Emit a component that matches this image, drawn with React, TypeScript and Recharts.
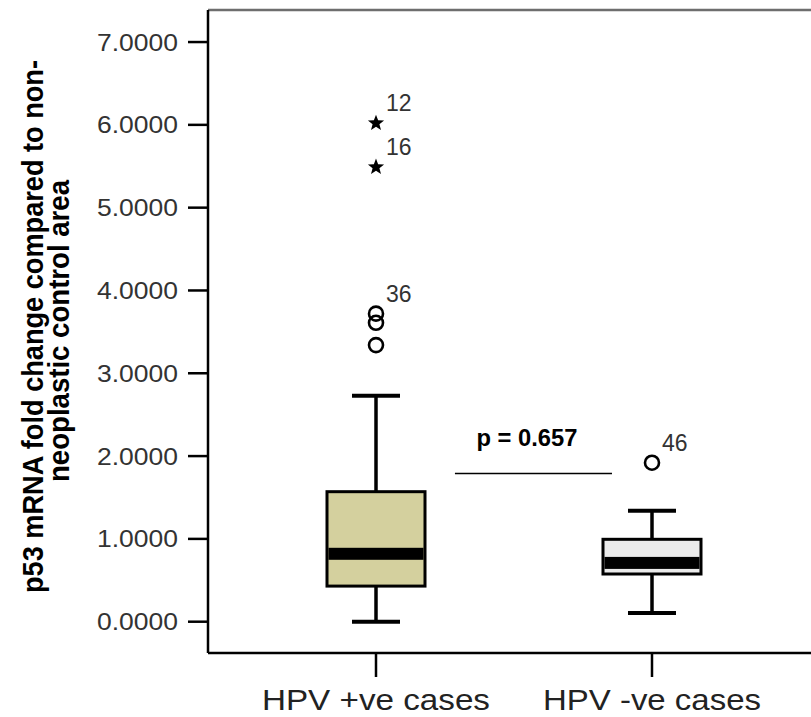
import React from 'react';
import {
  ComposedChart,
  Bar,
  Scatter,
  XAxis,
  YAxis,
  ReferenceLine,
  ReferenceDot,
} from 'recharts';

// ---- data ----
const categories = ['HPV +ve cases', 'HPV -ve cases'];
const categoryX = [1, 2];
const whiskerLow = [0.0, 0.105];
const q1Values = [0.43, 0.576];
const medianValues = [0.82, 0.71];
const q3Values = [1.57, 0.995];
const whiskerHigh = [2.73, 1.34];

const outlierX = [1, 1, 1, 1, 1, 2];
const outlierY = [6.02, 5.49, 3.72, 3.61, 3.34, 1.92];
const outlierKind = ['extreme', 'extreme', 'outlier', 'outlier', 'outlier', 'outlier'];
const outlierLabel = ['12', '16', '36', '', '', '46'];

const yTicks = [0, 1, 2, 3, 4, 5, 6, 7];
const yDomain = [-0.378, 7.387];
const xDomain = [0.3913, 2.5761];
const pValueText = 'p = 0.657';
const pLineY = 1.79;
const pLineX = [1.286, 1.855];
const pTextPos = { x: 1.547, y: 2.12 };

const yLabelLines = ['p53 mRNA fold change compared to non-', 'neoplastic control area'];

// ---- styles ----
const boxFills = ['#D4D09E', '#EBEBEB'];
const FONT = '"Liberation Sans", Arial, Helvetica, sans-serif';

const boxRows = categories.map((name, i) => ({
  name,
  x: categoryX[i],
  low: whiskerLow[i],
  q1: q1Values[i],
  median: medianValues[i],
  q3: q3Values[i],
  high: whiskerHigh[i],
  fill: boxFills[i],
  range: [whiskerLow[i], whiskerHigh[i]],
}));

const outlierRows = outlierX.map((x, i) => ({
  x,
  y: outlierY[i],
  kind: outlierKind[i],
  label: outlierLabel[i],
}));

const BoxShape = (props: any) => {
  const { x, y, width, height, payload } = props;
  if (payload == null || x == null) return null;
  const lo = payload.low;
  const hi = payload.high;
  const top = Math.min(y, y + height);
  const h = Math.abs(height);
  const py = (v: number) => top + (h * (hi - v)) / (hi - lo);
  const cx = x + width / 2;
  const capHalf = 24;
  const yHi = py(hi);
  const yLo = py(lo);
  const yQ3 = py(payload.q3);
  const yQ1 = py(payload.q1);
  const yMed = py(payload.median);
  return (
    <g>
      <line x1={cx} x2={cx} y1={yHi} y2={yQ3} stroke="#000" strokeWidth={3.5} />
      <line x1={cx} x2={cx} y1={yQ1} y2={yLo} stroke="#000" strokeWidth={3.5} />
      <line x1={cx - capHalf} x2={cx + capHalf} y1={yHi} y2={yHi} stroke="#000" strokeWidth={4} />
      <line x1={cx - capHalf} x2={cx + capHalf} y1={yLo} y2={yLo} stroke="#000" strokeWidth={4} />
      <rect x={x} y={yQ3} width={width} height={yQ1 - yQ3} fill={payload.fill} stroke="#000" strokeWidth={3} />
      <rect x={x + 1.5} y={yMed - 6} width={width - 3} height={12} fill="#000" />
    </g>
  );
};

const starPoints = (cx: number, cy: number, ro: number, ri: number) => {
  const pts: string[] = [];
  for (let k = 0; k < 10; k++) {
    const r = k % 2 === 0 ? ro : ri;
    const a = -Math.PI / 2 + (k * Math.PI) / 5;
    pts.push(`${cx + r * Math.cos(a)},${cy + r * Math.sin(a)}`);
  }
  return pts.join(' ');
};

const OutlierShape = (props: any) => {
  const { cx, cy, payload } = props;
  if (cx == null || cy == null) return null;
  return (
    <g>
      {payload.kind === 'extreme' ? (
        <polygon points={starPoints(cx, cy, 8.5, 3.6)} fill="#000" />
      ) : (
        <circle cx={cx} cy={cy} r={7} fill="none" stroke="#000" strokeWidth={2.6} />
      )}
      {payload.label ? (
        <text x={cx + 10} y={cy - 12} fontSize={23} fontFamily={FONT} fill="#333">
          {payload.label}
        </text>
      ) : null}
    </g>
  );
};

const YTick = (props: any) => {
  const { x, y, payload } = props;
  return (
    <text
      x={x}
      y={y + 8.5}
      textAnchor="end"
      fontSize={24}
      fontFamily={FONT}
      fill="#333"
      textLength={81}
      lengthAdjust="spacingAndGlyphs"
    >
      {Number(payload.value).toFixed(4)}
    </text>
  );
};

const XTick = (props: any) => {
  const { x, y, payload } = props;
  const idx = categoryX.indexOf(payload.value);
  const label = idx >= 0 ? categories[idx] : '';
  const widths = [228, 218];
  return (
    <text
      x={x}
      y={y + 33}
      textAnchor="middle"
      fontSize={29}
      fontFamily={FONT}
      fill="#222"
      textLength={widths[idx] ?? undefined}
      lengthAdjust="spacingAndGlyphs"
    >
      {label}
    </text>
  );
};

const YLabel = (props: any) => {
  const vb = props.viewBox || { x: 0, y: 10, width: 208, height: 643 };
  const midY = vb.y + vb.height / 2;
  const l1x = vb.x + 43;
  const l1y = midY - 5;
  const l2x = vb.x + 69;
  const l2y = midY - 0.5;
  return (
    <g>
      <text
        x={l1x}
        y={l1y}
        transform={`rotate(-90 ${l1x} ${l1y})`}
        textAnchor="middle"
        fontSize={29}
        fontWeight="bold"
        fontFamily={FONT}
        fill="#000"
        textLength={533}
        lengthAdjust="spacingAndGlyphs"
      >
        {yLabelLines[0]}
      </text>
      <text
        x={l2x}
        y={l2y}
        transform={`rotate(-90 ${l2x} ${l2y})`}
        textAnchor="middle"
        fontSize={29}
        fontWeight="bold"
        fontFamily={FONT}
        fill="#000"
        textLength={302}
        lengthAdjust="spacingAndGlyphs"
      >
        {yLabelLines[1]}
      </text>
    </g>
  );
};

const PLabel = (props: any) => {
  const vb = props.viewBox || { x: 0, y: 0, width: 0, height: 0 };
  const cx = vb.x + (vb.width || 0) / 2;
  const cy = vb.y + (vb.height || 0) / 2;
  return (
    <text
      x={cx}
      y={cy}
      textAnchor="middle"
      fontSize={23}
      fontWeight="bold"
      fontFamily={FONT}
      fill="#000"
      textLength={101}
      lengthAdjust="spacingAndGlyphs"
    >
      {pValueText}
    </text>
  );
};

export default function App() {
  return (
    <div style={{ position: 'absolute', left: 0, top: 0, background: '#fff' }}>
      <ComposedChart
        width={811}
        height={717}
        data={boxRows}
        margin={{ top: 10, right: 0, bottom: 0, left: 0 }}
      >
        <XAxis
          dataKey="x"
          type="number"
          domain={xDomain}
          allowDataOverflow
          ticks={categoryX}
          height={64}
          tickSize={24}
          tickMargin={0}
          tickLine={{ stroke: '#000', strokeWidth: 2.5 }}
          axisLine={{ stroke: '#000', strokeWidth: 2.5 }}
          tick={<XTick />}
          interval={0}
        />
        <YAxis
          type="number"
          domain={yDomain}
          allowDataOverflow
          ticks={yTicks}
          width={208}
          tickSize={20}
          tickMargin={10}
          tickLine={{ stroke: '#000', strokeWidth: 2.5 }}
          axisLine={{ stroke: '#000', strokeWidth: 2.5 }}
          tick={<YTick />}
          interval={0}
          label={<YLabel />}
        />
        <ReferenceLine y={yDomain[1]} stroke="#6e6e6e" strokeWidth={2.5} ifOverflow="visible" />
        <Bar dataKey="range" barSize={98} shape={<BoxShape />} isAnimationActive={false} />
        <Scatter
          data={outlierRows}
          dataKey="y"
          shape={<OutlierShape />}
          isAnimationActive={false}
        />
        <ReferenceLine
          segment={[
            { x: pLineX[0], y: pLineY },
            { x: pLineX[1], y: pLineY },
          ]}
          stroke="#000"
          strokeWidth={1.5}
        />
        <ReferenceDot
          x={pTextPos.x}
          y={pTextPos.y}
          r={0}
          fill="none"
          stroke="none"
          label={<PLabel />}
        />
      </ComposedChart>
    </div>
  );
}
